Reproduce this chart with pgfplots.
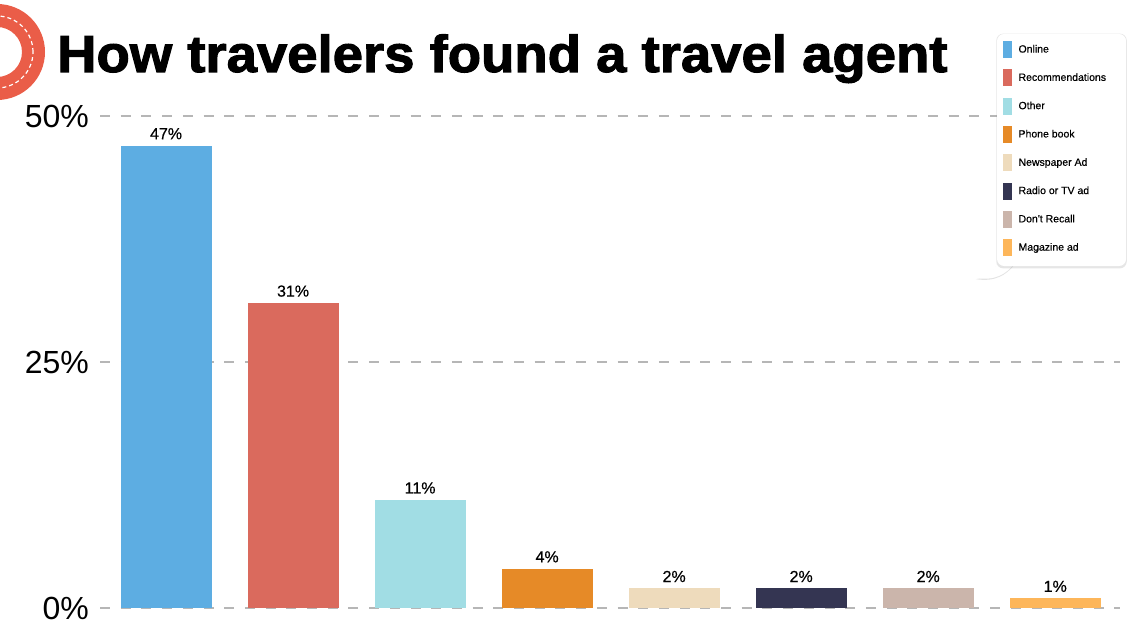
\documentclass[border=0pt]{standalone}
\usepackage{fontspec}
\setmainfont{Liberation Sans}
\newfontfamily\titlefont[BoldFeatures={FakeBold=2}]{Liberation Sans}
\newfontfamily\medfont[FakeBold=0.5]{Liberation Sans}
\usepackage{graphicx}
\usepackage{pgfplots}
\pgfplotsset{compat=1.18}
\usetikzlibrary{shadows}
\definecolor{ringc}{RGB}{234,93,72}
\definecolor{c1}{RGB}{93,173,226}
\definecolor{c2}{RGB}{218,106,93}
\definecolor{c3}{RGB}{161,221,228}
\definecolor{c4}{RGB}{230,138,39}
\definecolor{c5}{RGB}{238,219,188}
\definecolor{c6}{RGB}{52,53,82}
\definecolor{c7}{RGB}{203,181,171}
\definecolor{c8}{RGB}{253,182,90}
\definecolor{gridc}{RGB}{182,182,182}
\pgfplotsset{mylegend/.style={legend image code/.code={\fill[##1] (0pt,-8.5pt) rectangle (8.5pt,8.5pt);}}}
\begin{document}
\begin{tikzpicture}
\useasboundingbox (0pt,0pt) rectangle (1140pt,642pt);
% decorative ring
\fill[ringc, even odd rule] (-3pt,590pt) circle (48pt) (-3pt,590pt) circle (25pt);
\draw[white, dash pattern=on 4pt off 3pt, line width=1.2pt] (-3pt,590pt) circle (36pt);
% title
\node[anchor=base west, inner sep=0pt] at (57pt,570pt) {\scalebox{1.048}[1]{\titlefont\bfseries\fontsize{52}{52}\selectfont How travelers found a travel agent}};
\begin{axis}[
  at={(100pt,34pt)}, anchor=south west, scale only axis,
  width=1020pt, height=492pt,
  xmin=-0.52, xmax=7.51, ymin=0, ymax=50,
  ybar, bar shift=0pt, bar width=91pt,
  clip=false,
  axis line style={draw=none}, major tick length=0pt, tick style={draw=none},
  xtick=\empty,
  ytick={0,25,50}, yticklabels={0\%,25\%,50\%},
  yticklabel style={anchor=east, inner sep=0pt, xshift=-11pt, font=\fontsize{32}{32}\selectfont},
  ymajorgrids, major grid style={draw=gridc, dash pattern=on 10pt off 10.7pt, line width=1.2pt},
  nodes near coords={\pgfmathprintnumber[assume math mode=true]{\pgfplotspointmeta}\%},
  every node near coord/.append style={font=\medfont\fontsize{16}{16}\selectfont, inner sep=0pt, yshift=6pt, text=black},
  legend style={at={(0.8853,1.1524)}, anchor=north west, draw=none, fill=none, inner sep=0pt, outer sep=0pt,
    font=\medfont\fontsize{10.5}{10.5}\selectfont, row sep=11.3pt, column sep=7pt, nodes={inner sep=0pt}},
  legend cell align=left,
]
\fill[white, drop shadow={opacity=0.22,shadow xshift=0pt,shadow yshift=-1pt,shadow scale=1.01}]
  (axis description cs:0.8814,0.7276) .. controls (axis description cs:0.8814,0.6911) and (axis description cs:0.8725,0.6748) ..
  (axis description cs:0.8588,0.6707) .. controls (axis description cs:0.8775,0.6646) and (axis description cs:0.8882,0.6789) ..
  (axis description cs:0.8961,0.6992) -- cycle;
\fill[white, rounded corners=7pt, drop shadow={opacity=0.2,shadow xshift=0pt,shadow yshift=-1pt,shadow scale=1.012}]
  (axis description cs:0.8794,0.6951) rectangle (axis description cs:1.00588,1.1667);
\addplot[fill=c1, draw=none, mylegend] coordinates {(0,47)};
\addplot[fill=c2, draw=none, mylegend] coordinates {(1,31)};
\addplot[fill=c3, draw=none, mylegend] coordinates {(2,11)};
\addplot[fill=c4, draw=none, mylegend] coordinates {(3,4)};
\addplot[fill=c5, draw=none, mylegend] coordinates {(4,2)};
\addplot[fill=c6, draw=none, mylegend] coordinates {(5,2)};
\addplot[fill=c7, draw=none, mylegend] coordinates {(6,2)};
\addplot[fill=c8, draw=none, mylegend] coordinates {(7,1)};
\legend{Online,Recommendations,Other,Phone book,Newspaper Ad,Radio or TV ad,Don't Recall,Magazine ad}
\end{axis}
\end{tikzpicture}
\end{document}
